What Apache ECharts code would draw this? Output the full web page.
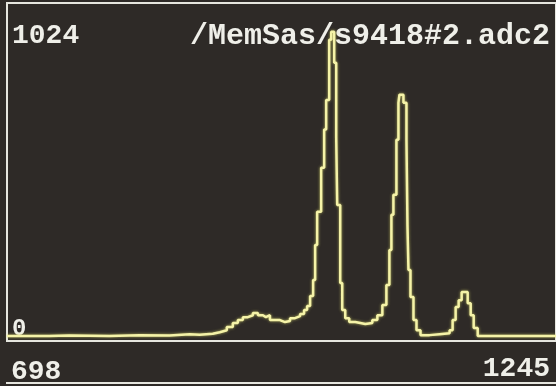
<!DOCTYPE html>
<html>
<head>
<meta charset="utf-8">
<script src="https://cdn.jsdelivr.net/npm/echarts@6/dist/echarts.min.js"></script>
<style>
  html, body { margin: 0; padding: 0; background: #2e2a27; }
  #chart { width: 556px; height: 386px; }
</style>
</head>
<body>
<div id="chart"></div>
<script>
// spectrum: bin start channel and counts held until next edge
var binEdges = [698, 740, 760, 800, 830, 860, 880, 890, 903, 910, 917, 923, 928, 933, 938, 943,
  948, 953, 956, 960, 965, 970, 975, 980, 985, 990, 994, 997, 1000, 1003, 1005, 1007,
  1011, 1014, 1016, 1019, 1021, 1024, 1026, 1027, 1030, 1032, 1035, 1039, 1045, 1055,
  1062, 1067, 1072, 1076, 1079, 1081, 1083, 1086, 1088, 1089, 1093, 1096, 1097, 1098,
  1100, 1103, 1106, 1110, 1119, 1129, 1139, 1142, 1145, 1148, 1151, 1157, 1160, 1163,
  1167, 1245];
var binCounts = [3, 5, 3, 6, 5, 9, 7, 10, 15, 21, 31, 43, 52, 61, 67, 74,
  67, 61, 67, 52, 52, 46, 49, 58, 64, 71, 83, 95, 126, 175, 282, 384,
  519, 636, 727, 911, 936, 841, 614, 405, 166, 83, 58, 46, 40,
  43, 52, 67, 98, 160, 267, 375, 436, 605, 718, 743, 718, 605, 344,
  206, 123, 52, 21, 6, 9, 12, 21, 52, 92, 113, 138, 104, 67,
  28, 3];

var xLabels = ['698', '1245'];
var yLabels = ['0', '1024'];
var fileName = '/MemSas/s9418#2.adc2';

var chartDom = document.getElementById('chart');
var chart = echarts.init(chartDom);

var seriesData = [];
for (var i = 0; i < binCounts.length; i++) {
  seriesData.push([binEdges[i], binCounts[i]]);
}
seriesData.push([binEdges[binEdges.length - 1], binCounts[binCounts.length - 1]]);

var txt = { fill: '#efefe9', fontFamily: 'Liberation Mono', fontWeight: 'bold' };

option = {
  backgroundColor: '#2e2a27',
  animation: false,
  grid: {
    left: 7,
    right: -4,
    top: 3,
    bottom: 45,
    show: true,
    borderColor: '#e6e6df',
    borderWidth: 2,
    backgroundColor: 'transparent'
  },
  xAxis: {
    type: 'value',
    min: 698,
    max: 1245,
    show: false
  },
  yAxis: {
    type: 'value',
    min: -12,
    max: 1024,
    show: false
  },
  graphic: [
    { type: 'text', left: 12, top: 22, style: Object.assign({ text: yLabels[1], fontSize: 28 }, txt) },
    { type: 'text', left: 12, top: 317, style: Object.assign({ text: yLabels[0], fontSize: 24 }, txt) },
    { type: 'text', right: 6, top: 21, style: Object.assign({ text: fileName, fontSize: 30 }, txt) },
    { type: 'text', left: 11, top: 358, style: Object.assign({ text: xLabels[0], fontSize: 28 }, txt) },
    { type: 'text', right: 6, top: 355, style: Object.assign({ text: xLabels[1], fontSize: 28 }, txt) },
    { type: 'rect', left: 6, top: 382, shape: { width: 552, height: 2 }, style: { fill: '#e6e6df' } }
  ],
  series: [
    {
      type: 'line',
      step: 'end',
      data: seriesData,
      symbol: 'none',
      lineStyle: {
        color: '#f5f3a8',
        width: 2.5,
        shadowColor: 'rgba(230,230,110,0.7)',
        shadowBlur: 3
      }
    }
  ]
};

chart.setOption(option);
</script>
</body>
</html>
